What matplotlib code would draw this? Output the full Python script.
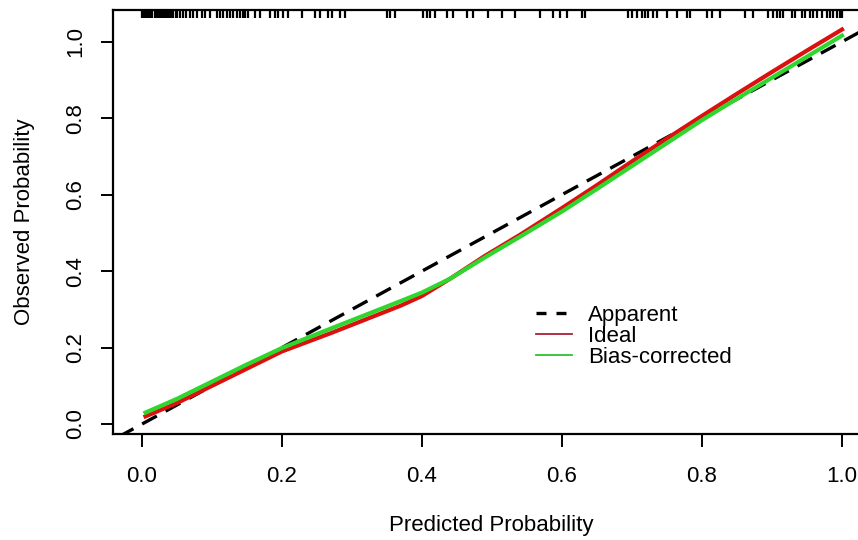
import matplotlib
matplotlib.use("Agg")
import matplotlib.pyplot as plt
from matplotlib.lines import Line2D

plt.rcParams['font.family'] = ['Liberation Sans', 'DejaVu Sans']

# Data
pred_x = [0.005, 0.05, 0.10, 0.15, 0.20, 0.27, 0.32, 0.37, 0.40, 0.44, 0.49,
          0.54, 0.60, 0.65, 0.70, 0.75, 0.80, 0.85, 0.90, 0.95, 1.00]
ideal_y = [0.020, 0.055, 0.100, 0.145, 0.190, 0.238, 0.274, 0.310, 0.335, 0.380, 0.440,
           0.495, 0.565, 0.625, 0.687, 0.747, 0.806, 0.864, 0.921, 0.977, 1.032]
bias_y = [0.030, 0.066, 0.111, 0.156, 0.199, 0.250, 0.286, 0.322, 0.344, 0.380, 0.436,
          0.490, 0.556, 0.615, 0.675, 0.735, 0.795, 0.851, 0.906, 0.961, 1.016]
diag = [-0.1, 1.2]

rug_x = [0.000, 0.003, 0.006, 0.009, 0.012, 0.015, 0.018, 0.021, 0.024, 0.027, 0.030,
         0.033, 0.036, 0.039, 0.042, 0.045, 0.048, 0.050, 0.054, 0.059, 0.063, 0.069,
         0.073, 0.079, 0.086, 0.090, 0.097, 0.107, 0.111, 0.116, 0.121, 0.126, 0.130,
         0.136, 0.140, 0.144, 0.147, 0.151, 0.161, 0.169, 0.183, 0.190, 0.194, 0.201,
         0.209, 0.229, 0.247, 0.254, 0.266, 0.271, 0.283, 0.290, 0.350, 0.354, 0.361,
         0.401, 0.407, 0.411, 0.419, 0.436, 0.444, 0.464, 0.473, 0.494, 0.514, 0.533,
         0.569, 0.587, 0.597, 0.607, 0.629, 0.633, 0.694, 0.700, 0.707, 0.714, 0.719,
         0.723, 0.730, 0.736, 0.750, 0.764, 0.779, 0.783, 0.807, 0.814, 0.826, 0.861,
         0.873, 0.894, 0.901, 0.907, 0.911, 0.916, 0.929, 0.933, 0.943, 0.947, 0.954,
         0.959, 0.964, 0.971, 0.979, 0.983, 0.987, 0.993, 0.997, 1.000]

x_ticks = [0.0, 0.2, 0.4, 0.6, 0.8, 1.0]
y_ticks = [0.0, 0.2, 0.4, 0.6, 0.8, 1.0]
legend_labels = ["Apparent", "Ideal", "Bias-corrected"]

fig = plt.figure(figsize=(8.58, 5.40), dpi=100)
ax = fig.add_axes([113/858, (540-434)/540, (870-113)/858, (434-10)/540])

ax.plot(diag, diag, color='black', lw=2.4, dashes=(5, 3), zorder=2)
ax.plot(pred_x, ideal_y, color='#dd1010', lw=3, zorder=3)
ax.plot(pred_x, bias_y, color='#2ed62e', lw=3, zorder=4)

ymax = 1.083
for xv in rug_x:
    ax.plot([xv, xv], [ymax, ymax - 0.021], color='black', lw=1.6, zorder=5,
            solid_capstyle='butt')

ax.set_xlim(-0.0414, 1.04)
ax.set_ylim(-0.026, ymax)
ax.set_xticks(x_ticks)
ax.set_xticklabels([f"{v:.1f}" for v in x_ticks])
ax.set_yticks(y_ticks)
ax.set_yticklabels([f"{v:.1f}" for v in y_ticks], rotation=90, va='center')
ax.tick_params(direction='out', length=9, width=1.4, labelsize=16, colors='black')
ax.tick_params(axis='x', pad=14)
ax.tick_params(axis='y', pad=10)
for s in ax.spines.values():
    s.set_linewidth(1.6)

ax.set_xlabel("Predicted Probability", fontsize=16, labelpad=20)
ax.set_ylabel("Observed Probability", fontsize=16, labelpad=22)

handles = [Line2D([], [], color='black', lw=2.4, dashes=(3, 3)),
           Line2D([], [], color='#a8203a', lw=1.3),
           Line2D([], [], color='#30c030', lw=1.3)]
ax.legend(handles, legend_labels, loc='upper left', bbox_to_anchor=(0.559, 0.304),
          frameon=False, fontsize=16, handlelength=1.6, handletextpad=0.75,
          labelspacing=0.0, borderpad=0, borderaxespad=0)

fig.savefig("out.png", dpi=100)
